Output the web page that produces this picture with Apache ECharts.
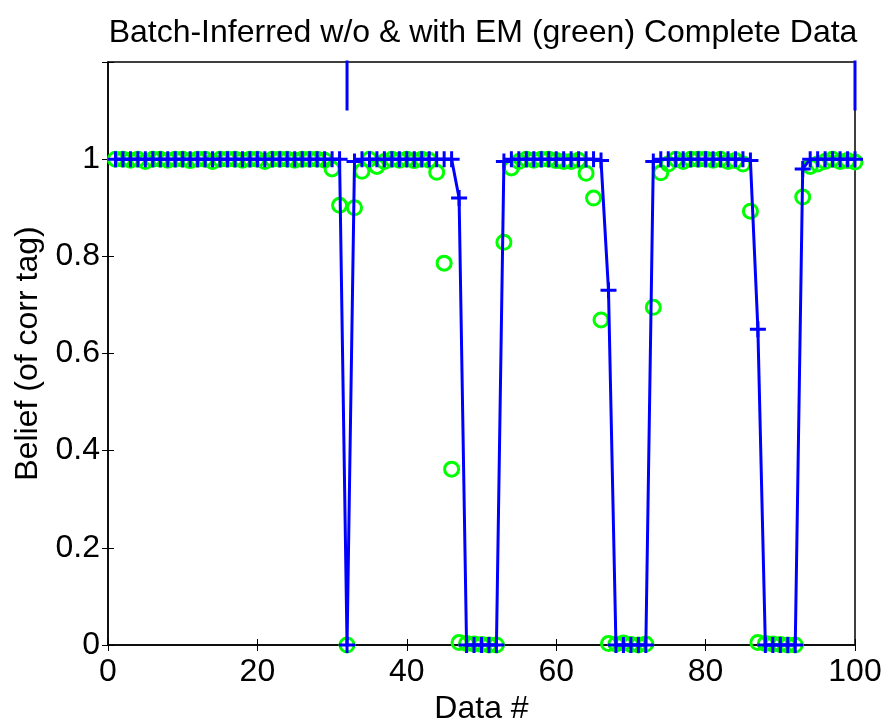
<!DOCTYPE html>
<html>
<head>
<meta charset="utf-8">
<script src="https://cdn.jsdelivr.net/npm/echarts@6/dist/echarts.min.js"></script>
<style>
html,body{margin:0;padding:0;background:#fff;}
#chart{width:885px;height:723px;}
</style>
</head>
<body>
<div id="chart"></div>
<script>
// data index 1..100
const dataIdx = Array.from({length: 100}, (_, i) => i + 1)

// batch inferred without EM (blue, '+')
const beliefNoEM = [
  1,1,1,1,1,1,1,1,1,1, 1,1,1,1,1,1,1,1,1,1,
  1,1,1,1,1,1,1,1,1,1, 1,0,0.995,1,1,1,1,1,1,1,
  1,1,1,1,1,1,0.92,0,0,0, 0,0,0.995,1,1,1,1,1,1,1,
  1,1,1,1,1,0.997,0.73,0,0,0, 0,0,0.995,1,1,1,1,1,1,1,
  1,1,1,1,1,0.997,0.65,0,0,0, 0,0,0.98,1,1,1,1,1,1,1
]

// with EM (green circles)
const beliefEM = [
  1,1,0.998,1,0.995,1,1,0.998,1,1, 0.997,1,1,0.995,1,1,1,0.998,1,1,
  0.995,1,1,1,0.998,1,1,1,0.998,0.98, 0.905,0,0.9,0.975,1,0.985,0.995,1,0.998,1,
  0.997,1,0.998,0.973,0.786,0.362,0.005,0.003,0.002,0.001, 0,0,0.829,0.982,0.995,1,0.998,1,1,0.997,
  0.995,0.995,0.998,0.971,0.92,0.669,0.003,0.002,0.004,0.001, 0,0.002,0.695,0.972,0.99,1,0.995,1,1,1,
  0.998,1,0.995,0.997,0.99,0.893,0.005,0.003,0.002,0.001, 0,0,0.922,0.985,0.99,0.995,1,0.995,0.997,0.994
]

// short blue strokes poking in from the top
const spikeX = [32, 100]
const spikeY = [1.1, 1.3]

const xTicks = [0, 20, 40, 60, 80, 100]
const yTicks = [0, 0.2, 0.4, 0.6, 0.8, 1]

const font = 'Liberation Sans, Arial, sans-serif'
const plus = 'path://M6.5,0h3v6.5h6.5v3h-6.5v6.5h-3v-6.5h-6.5v-3h6.5z'

let spikeData = []
spikeX.forEach(x => {
  spikeData.push([x, spikeY[0]], [x, spikeY[1]], [x, null])
})

let myCharts = echarts.init(document.getElementById('chart'))
myCharts.setOption({
  animation: false,
  title: {
    text: 'Batch-Inferred w/o & with EM (green) Complete Data',
    left: 478,
    textAlign: 'center',
    top: 12,
    textStyle: {fontFamily: font, fontSize: 32, fontWeight: 'normal', color: '#000'}
  },
  grid: {
    left: 108, right: 30, top: 62, bottom: 78,
    outerBoundsMode: 'none',
    show: true, borderColor: '#000', borderWidth: 1.5
  },
  xAxis: [{
    type: 'value', min: 0, max: 100, interval: 20,
    name: 'Data #', nameLocation: 'middle', nameGap: 46,
    nameTextStyle: {fontFamily: font, fontSize: 32, color: '#000'},
    axisLine: {lineStyle: {color: '#000', width: 1.5}},
    axisTick: {inside: true, length: 6, lineStyle: {color: '#000'}},
    axisLabel: {fontFamily: font, fontSize: 32, color: '#000', margin: 11,
      formatter: v => xTicks.includes(v) ? String(v) : ''},
    splitLine: {show: false}
  }, {
    type: 'value', min: 0, max: 100, interval: 20, position: 'top',
    axisLine: {show: false},
    axisTick: {inside: true, length: 6, lineStyle: {color: '#000'}},
    axisLabel: {show: false}, splitLine: {show: false}
  }],
  yAxis: [{
    type: 'value', min: 0, max: 1.2, interval: 0.2,
    name: 'Belief (of corr tag)', nameLocation: 'middle', nameGap: 64,
    nameTextStyle: {fontFamily: font, fontSize: 32, color: '#000'},
    axisLine: {show: true, lineStyle: {color: '#000', width: 1.5}},
    axisTick: {show: true, inside: true, length: 6, lineStyle: {color: '#000'}},
    axisLabel: {fontFamily: font, fontSize: 32, color: '#000', margin: 8,
      formatter: v => yTicks.some(t => Math.abs(t - v) < 1e-6) ? String(+v.toFixed(1)) : ''},
    splitLine: {show: false}
  }, {
    type: 'value', min: 0, max: 1.2, interval: 0.2, position: 'right',
    axisLine: {show: false},
    axisTick: {show: true, inside: true, length: 6, lineStyle: {color: '#000'}},
    axisLabel: {show: false}, splitLine: {show: false}
  }],
  series: [{
    type: 'line',
    data: spikeData,
    showSymbol: false,
    clip: true,
    lineStyle: {color: '#0000ff', width: 3},
    silent: true
  }, {
    type: 'line',
    data: dataIdx.map((x, i) => [x, beliefNoEM[i]]),
    symbol: plus, symbolSize: 16, showAllSymbol: true,
    itemStyle: {color: '#0000ff'},
    lineStyle: {color: '#0000ff', width: 3}
  }, {
    type: 'scatter',
    data: dataIdx.map((x, i) => [x, beliefEM[i]]),
    symbol: 'circle', symbolSize: 14,
    itemStyle: {color: 'rgba(0,0,0,0)', borderColor: '#00ff00', borderWidth: 3, opacity: 1}
  }]
})
</script>
</body>
</html>
